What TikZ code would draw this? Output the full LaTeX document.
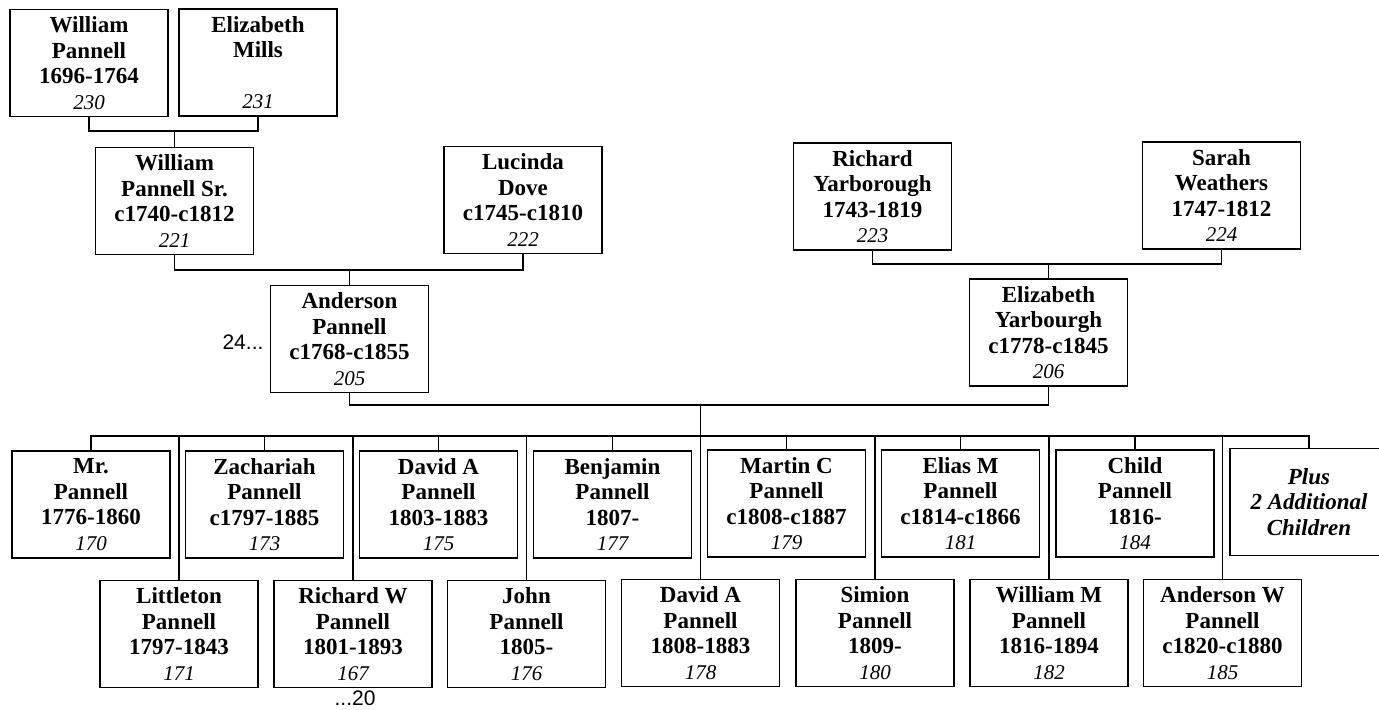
\documentclass[tikz,border=0pt]{standalone}
\usepackage{fontspec}
\setmainfont{Liberation Serif}
\newfontfamily\labelfont{Liberation Sans}
\usepackage{tikz}

\newcommand{\idno}[1]{{\mdseries\itshape\fontsize{10.5}{12.75}\selectfont #1}}

\begin{document}
\begin{tikzpicture}[x=0.5pt, y=-0.5pt,
  person/.style={draw, line width=0.7pt, rectangle, inner sep=0pt,
    minimum width=79pt, minimum height=53.5pt, align=center,
    font=\bfseries\fontsize{11.5}{12.75}\selectfont},
  link/.style={line width=0.6pt},
  more/.style={font=\labelfont\fontsize{10.5}{12}\selectfont, inner sep=0pt}]
\useasboundingbox (0, 0) rectangle (1379, 709);

% grandparents
\node[person] (p230) at (89, 63) {William\\Pannell\\1696-1764\\\idno{230}};
\node[person] (p231) at (258, 62.5) {Elizabeth\\Mills\\~\\\idno{231}};

% parents of the couple
\node[person] (p221) at (174.5, 201) {William\\Pannell Sr.\\c1740-c1812\\\idno{221}};
\node[person] (p222) at (523, 200) {Lucinda\\Dove\\c1745-c1810\\\idno{222}};
\node[person] (p223) at (872.5, 196.5) {Richard\\Yarborough\\1743-1819\\\idno{223}};
\node[person] (p224) at (1221.5, 195.5) {Sarah\\Weathers\\1747-1812\\\idno{224}};

% the couple
\node[person] (p205) at (349.5, 339) {Anderson\\Pannell\\c1768-c1855\\\idno{205}};
\node[person] (p206) at (1048.5, 332.5) {Elizabeth\\Yarbourgh\\c1778-c1845\\\idno{206}};

\node[more] (more24) at (243, 342) {24...};

% children, upper row
\node[person] (c170) at (91, 504.5) {Mr.\\Pannell\\1776-1860\\\idno{170}};
\node[person] (c173) at (264.5, 504.5) {Zachariah\\Pannell\\c1797-1885\\\idno{173}};
\node[person] (c175) at (438.5, 504.5) {David A\\Pannell\\1803-1883\\\idno{175}};
\node[person] (c177) at (612.5, 504.5) {Benjamin\\Pannell\\1807-\\\idno{177}};
\node[person] (c179) at (786.5, 503.5) {Martin C\\Pannell\\c1808-c1887\\\idno{179}};
\node[person] (c181) at (960.5, 503.5) {Elias M\\Pannell\\c1814-c1866\\\idno{181}};
\node[person] (c184) at (1135, 503.5) {Child\\Pannell\\1816-\\\idno{184}};
\node[person] (cplus) at (1309, 502) {\itshape Plus\\\itshape 2 Additional\\\itshape Children};

% children, lower row
\node[person] (c171) at (179, 634) {Littleton\\Pannell\\1797-1843\\\idno{171}};
\node[person] (c167) at (353, 634) {Richard W\\Pannell\\1801-1893\\\idno{167}};
\node[person] (c176) at (526.5, 634) {John\\Pannell\\1805-\\\idno{176}};
\node[person] (c178) at (700.5, 633) {David A\\Pannell\\1808-1883\\\idno{178}};
\node[person] (c180) at (875, 633) {Simion\\Pannell\\1809-\\\idno{180}};
\node[person] (c182) at (1049, 633) {William M\\Pannell\\1816-1894\\\idno{182}};
\node[person] (c185) at (1222.5, 633) {Anderson W\\Pannell\\c1820-c1880\\\idno{185}};

\node[more] (more20) at (355, 698) {...20};

% couple lines
\coordinate (m1) at (174.5, 131);
\coordinate (m2) at (349.5, 270);
\coordinate (m3) at (1048.5, 264);
\coordinate (m4) at (700.5, 405);
\coordinate (bar) at (700.5, 436);

\draw[link] (p230.south) |- (m1) -| (p231.south);
\draw[link] (m1) -- (p221.north);
\draw[link] (p221.south) |- (m2) -| (p222.south);
\draw[link] (m2) -- (p205.north);
\draw[link] (p223.south) |- (m3) -| (p224.south);
\draw[link] (m3) -- (p206.north);
\draw[link] (p205.south) |- (m4) -| (p206.south);
\draw[link] (m4) -- (c178.north);

% children bar
\draw[link] (c170.north) -- (c170.north |- bar) -- (cplus.north |- bar) -- (cplus.north);
\foreach \kid in {c173, c175, c177, c179, c181, c184, c171, c167, c176, c180, c182, c185}
  \draw[link] (\kid.north) -- (\kid.north |- bar);
\end{tikzpicture}
\end{document}
